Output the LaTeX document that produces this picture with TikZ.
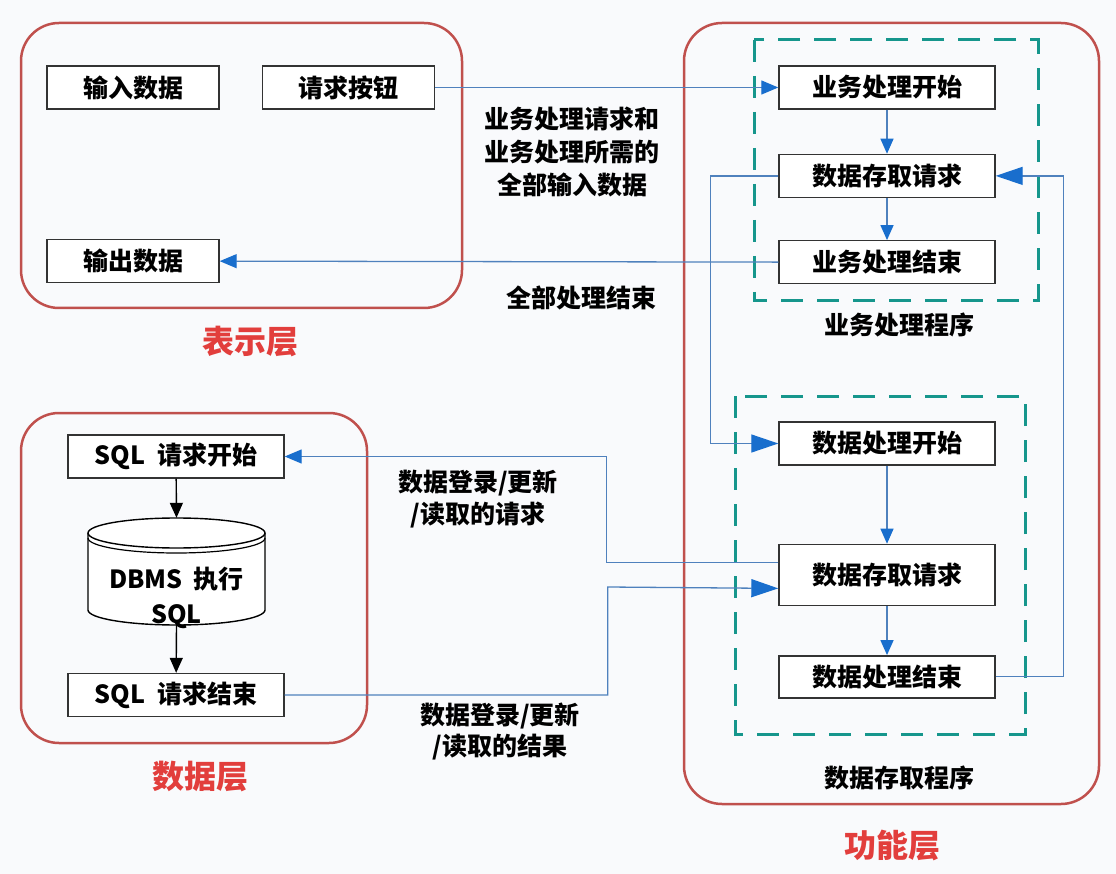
\documentclass[tikz,border=0pt]{standalone}
\usepackage{fontspec}
\setmainfont{Noto Sans CJK SC}
\usetikzlibrary{positioning, arrows.meta}
\definecolor{capared}{RGB}{192,80,77}
\definecolor{capatexto}{RGB}{226,62,60}
\definecolor{proceso}{RGB}{22,150,140}
\definecolor{flujo}{RGB}{79,129,189}
\definecolor{punta}{RGB}{25,110,205}
\definecolor{fondo}{RGB}{249,250,252}

\begin{document}
\begin{tikzpicture}[x=1pt, y=-1pt,
    box/.style={draw=black!80, line width=1.4pt, fill=white, minimum width=172pt, minimum height=43pt, inner sep=0pt, font=\fontsize{25}{30}\selectfont\bfseries},
    wide/.style={box, minimum width=216pt},
    layer/.style={draw=capared, line width=2.5pt, rounded corners=38pt},
    proc/.style={draw=proceso, line width=3pt, dash pattern=on 22pt off 14pt},
    caption/.style={font=\fontsize{25}{33}\selectfont\bfseries, align=center, inner sep=0pt},
    layername/.style={text=capatexto, font=\fontsize{32}{36}\selectfont\bfseries},
    link/.style={draw=flujo, line width=1.3pt, -{Triangle[length=17pt,width=14pt,color=punta]}},
    biglink/.style={draw=flujo, line width=1.3pt, -{Triangle[length=27pt,width=18pt,color=punta]}},
    down/.style={draw=flujo, line width=1.3pt, -{Triangle[length=15pt,width=13pt,color=punta]}},
    dbarrow/.style={line width=1.4pt, -{Triangle[length=15pt,width=13pt]}}]
    \fill[fondo] (0,0) rectangle (1116,874);
    \useasboundingbox (0,0) rectangle (1116,874);

    % capas
    \draw[layer] (21,23) rectangle (462,308);
    \draw[layer] (21,413) rectangle (367,743);
    \draw[layer] (684,23) rectangle (1099,804);
    \draw[proc] (754,40) rectangle (1038,301);
    \draw[proc] (735,396) rectangle (1025,734);

    \node[layername] (lpres) at (250,342) {表示层};
    \node[layername] (ldatos) at (200,777) {数据层};
    \node[layername] (lfunc) at (892,845) {功能层};

    % presentacion
    \node[box] (entrada) at (133,87.5) {输入数据};
    \node[box] (boton) at (348.5,87.5) {请求按钮};
    \node[box] (salida) at (133,261) {输出数据};

    % proceso de negocio
    \node[wide] (ini) at (887,87.5) {业务处理开始};
    \node[wide, below=44pt of ini] (req) {数据存取请求};
    \node[wide, below=42pt of req] (fin) {业务处理结束};

    % acceso a datos
    \node[wide] (dini) at (887,443.5) {数据处理开始};
    \node[wide, minimum height=61pt, below=78pt of dini] (dreq) {数据存取请求};
    \node[wide, minimum height=42pt, below=49pt of dreq] (dfin) {数据处理结束};

    % capa de datos
    \node[wide] (sqlini) at (176,456.5) {SQL\ \ 请求开始};
    \node[minimum width=177pt, minimum height=107pt, inner sep=0pt] (db) at (176.5,571.5) {};
    \draw[line width=1.4pt, fill=white] (88,533) -- (88,610)
        arc[start angle=180, end angle=360, x radius=88.5pt, y radius=15pt] -- (265,533)
        arc[start angle=0, end angle=180, x radius=88.5pt, y radius=15pt] -- cycle;
    \draw[line width=1.4pt] (88,533) arc[start angle=180, end angle=360, x radius=88.5pt, y radius=15pt];
    \draw[line width=1.2pt] (88,538) arc[start angle=180, end angle=360, x radius=88.5pt, y radius=15pt];
    \node[caption, font=\fontsize{25}{35}\selectfont\bfseries] (dbtxt) at (176.5,598) {DBMS\ \ 执行\\SQL};
    \node[wide] (sqlfin) at (176,695) {SQL\ \ 请求结束};

    \draw[dbarrow] (sqlini) -- (db.north);
    \draw[dbarrow] (db.south) -- (sqlfin);

    % conexiones
    \draw[link] (boton) -- (ini);
    \draw[link] (fin) -- (salida);
    \draw[down] (ini) -- (req);
    \draw[down] (req) -- (fin);
    \draw[biglink] (req.west) -- ++(-68,0) |- (dini.west);
    \draw[biglink] (dfin.east) -- ++(68,0) |- (req.east);
    \draw[down] (dini) -- (dreq);
    \draw[down] (dreq) -- (dfin);
    \draw[link] ([yshift=12.5pt]dreq.west) -- ++(-172,0) |- (sqlini.east);
    \draw[biglink] (sqlfin.east) -| ++(323,-108) -- ([yshift=-13.5pt]dreq.west);

    \node[caption] (msg1) at (572,152) {业务处理请求和\\业务处理所需的\\全部输入数据};
    \node[caption] (msg2) at (581,298) {全部处理结束};
    \node[caption, font=\fontsize{25}{32}\selectfont\bfseries] (msg3) at (478,499) {数据登录/更新\\/读取的请求};
    \node[caption, font=\fontsize{25}{31}\selectfont\bfseries] (msg4) at (500,732) {数据登录/更新\\/读取的结果};
    \node[caption] (prog1) at (899,325) {业务处理程序};
    \node[caption] (prog2) at (899,778) {数据存取程序};
\end{tikzpicture}
\end{document}
